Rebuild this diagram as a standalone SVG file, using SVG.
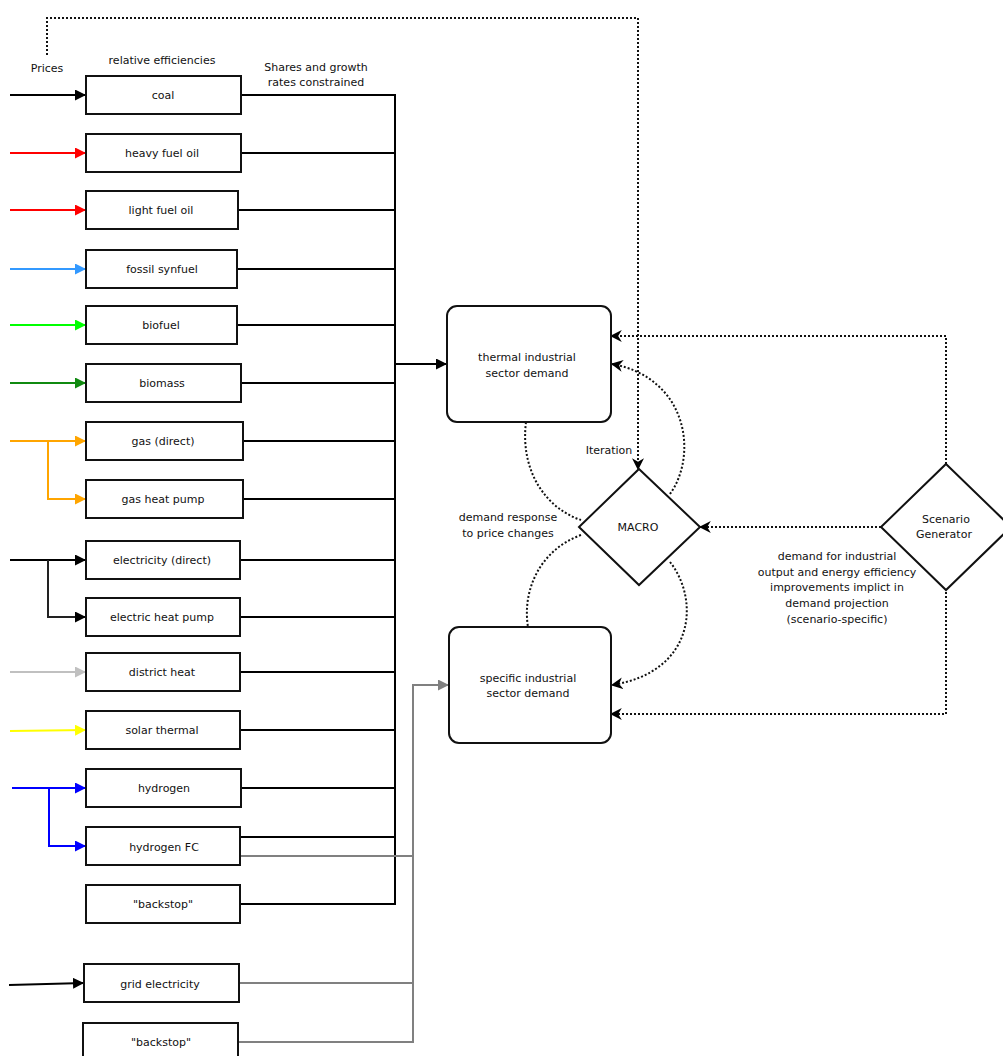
<svg xmlns="http://www.w3.org/2000/svg" width="1003" height="1056" viewBox="0 0 1003 1056">
<defs>
<style>
text{font-family:"DejaVu Sans","Liberation Sans",sans-serif;font-size:11px;fill:#111;text-anchor:middle;}
.box{fill:#fff;stroke:#111;stroke-width:2;}
.rbox{fill:#fff;stroke:#111;stroke-width:2;}
.ln{fill:none;stroke-width:2;}
.blk{stroke:#000;}
.gry{stroke:#808080;}
.dot{fill:none;stroke:#111;stroke-width:2;stroke-dasharray:2 2;}
</style>
<marker id="aBlack" viewBox="0 0 10 10" refX="10" refY="5" markerWidth="5.5" markerHeight="5.5" orient="auto" markerUnits="strokeWidth"><path d="M0,0L10,5L0,10z" fill="#000"/></marker>
<marker id="aRed" viewBox="0 0 10 10" refX="10" refY="5" markerWidth="5.5" markerHeight="5.5" orient="auto" markerUnits="strokeWidth"><path d="M0,0L10,5L0,10z" fill="#ff0000"/></marker>
<marker id="aSyn" viewBox="0 0 10 10" refX="10" refY="5" markerWidth="5.5" markerHeight="5.5" orient="auto" markerUnits="strokeWidth"><path d="M0,0L10,5L0,10z" fill="#3399ff"/></marker>
<marker id="aLime" viewBox="0 0 10 10" refX="10" refY="5" markerWidth="5.5" markerHeight="5.5" orient="auto" markerUnits="strokeWidth"><path d="M0,0L10,5L0,10z" fill="#00ff00"/></marker>
<marker id="aGreen" viewBox="0 0 10 10" refX="10" refY="5" markerWidth="5.5" markerHeight="5.5" orient="auto" markerUnits="strokeWidth"><path d="M0,0L10,5L0,10z" fill="#108a10"/></marker>
<marker id="aOrange" viewBox="0 0 10 10" refX="10" refY="5" markerWidth="5.5" markerHeight="5.5" orient="auto" markerUnits="strokeWidth"><path d="M0,0L10,5L0,10z" fill="#ffa500"/></marker>
<marker id="aLgray" viewBox="0 0 10 10" refX="10" refY="5" markerWidth="5.5" markerHeight="5.5" orient="auto" markerUnits="strokeWidth"><path d="M0,0L10,5L0,10z" fill="#c0c0c0"/></marker>
<marker id="aYellow" viewBox="0 0 10 10" refX="10" refY="5" markerWidth="5.5" markerHeight="5.5" orient="auto" markerUnits="strokeWidth"><path d="M0,0L10,5L0,10z" fill="#ffff00"/></marker>
<marker id="aBlue" viewBox="0 0 10 10" refX="10" refY="5" markerWidth="5.5" markerHeight="5.5" orient="auto" markerUnits="strokeWidth"><path d="M0,0L10,5L0,10z" fill="#0000ff"/></marker>
<marker id="aGray" viewBox="0 0 10 10" refX="10" refY="5" markerWidth="5.5" markerHeight="5.5" orient="auto" markerUnits="strokeWidth"><path d="M0,0L10,5L0,10z" fill="#808080"/></marker>
<marker id="aOpen" viewBox="0 0 10 10" refX="9" refY="5" markerWidth="6" markerHeight="6" orient="auto" markerUnits="strokeWidth"><path d="M0,0L10,5L0,10L3,5z" fill="#000"/></marker>
</defs>
<rect width="1003" height="1056" fill="#fff"/>

<g id="connectors">
<path class="ln" stroke="#000" d="M10,95H86" marker-end="url(#aBlack)"/>
<path class="ln" stroke="#ff0000" d="M10,153H86" marker-end="url(#aRed)"/>
<path class="ln" stroke="#ff0000" d="M10,210H86" marker-end="url(#aRed)"/>
<path class="ln" stroke="#3399ff" d="M10,269H86" marker-end="url(#aSyn)"/>
<path class="ln" stroke="#00ff00" d="M10,325H86" marker-end="url(#aLime)"/>
<path class="ln" stroke="#108a10" d="M10,383H86" marker-end="url(#aGreen)"/>
<path class="ln" stroke="#ffa500" d="M10,441H86" marker-end="url(#aOrange)"/>
<path class="ln" stroke="#ffa500" d="M48,441V499H86" marker-end="url(#aOrange)"/>
<path class="ln" stroke="#000" d="M10,560H86" marker-end="url(#aBlack)"/>
<path class="ln" stroke="#222" d="M48,560V617H86" marker-end="url(#aBlack)"/>
<path class="ln" stroke="#c0c0c0" d="M10,672H86" marker-end="url(#aLgray)"/>
<path class="ln" stroke="#ffff00" d="M10,731L86,730" marker-end="url(#aYellow)"/>
<path class="ln" stroke="#0000ff" d="M12,788H86" marker-end="url(#aBlue)"/>
<path class="ln" stroke="#0000ff" d="M49,788V846H86" marker-end="url(#aBlue)"/>
<path class="ln" stroke="#000" d="M9,985L84,983" marker-end="url(#aBlack)"/>

<path class="ln blk" d="M241,95H395V904H240"/>
<path class="ln blk" d="M241,153H395M238,210H395M237,269H395M237,325H395M241,383H395M243,441H395M243,499H395M240,560H395M240,617H395M240,672H395M240,730H395M241,788H395M240,837H395"/>
<path class="ln blk" d="M395,364H447" marker-end="url(#aBlack)"/>

<path class="ln gry" d="M240,856H413M239,983H413M238,1042H413V685H449" marker-end="url(#aGray)"/>

<path class="dot" d="M47,55V18H638V469" marker-end="url(#aOpen)"/>
<path class="dot" d="M946,464V336H611" marker-end="url(#aOpen)"/>
<path class="dot" d="M946,588V714H611" marker-end="url(#aOpen)"/>
<path class="dot" d="M881,527H700" marker-end="url(#aOpen)"/>
<path class="dot" d="M526,422C520,470 545,508 581,520"/>
<path class="dot" d="M670,494C698,455 688,378 612,364" marker-end="url(#aOpen)"/>
<path class="dot" d="M581,535C540,550 522,590 528,627"/>
<path class="dot" d="M670,562C700,600 695,672 612,685" marker-end="url(#aOpen)"/>
</g>

<g id="labels">
<text x="47" y="72">Prices</text>
<text x="162" y="64">relative efficiencies</text>
<text x="316" y="71">Shares and growth</text>
<text x="316" y="86">rates constrained</text>
<text x="609" y="454">Iteration</text>
<text x="508" y="521">demand response</text>
<text x="508" y="537">to price changes</text>
<text x="837" y="560">demand for industrial</text>
<text x="837" y="576">output and energy efficiency</text>
<text x="837" y="591">improvements implict in</text>
<text x="837" y="607">demand projection</text>
<text x="837" y="623">(scenario-specific)</text>
</g>

<g id="n-coal"><rect class="box" x="86" y="76" width="155" height="38"/><text x="163" y="99">coal</text></g>
<g id="n-hfo"><rect class="box" x="86" y="134" width="155" height="38"/><text x="162" y="157">heavy fuel oil</text></g>
<g id="n-lfo"><rect class="box" x="86" y="191" width="152" height="38"/><text x="161" y="214">light fuel oil</text></g>
<g id="n-synfuel"><rect class="box" x="86" y="250" width="151" height="38"/><text x="162" y="273">fossil synfuel</text></g>
<g id="n-biofuel"><rect class="box" x="86" y="306" width="151" height="38"/><text x="161" y="329">biofuel</text></g>
<g id="n-biomass"><rect class="box" x="86" y="364" width="155" height="38"/><text x="162" y="387">biomass</text></g>
<g id="n-gas"><rect class="box" x="86" y="422" width="157" height="38"/><text x="163" y="445">gas (direct)</text></g>
<g id="n-gashp"><rect class="box" x="86" y="480" width="157" height="38"/><text x="163" y="503">gas heat pump</text></g>
<g id="n-elec"><rect class="box" x="86" y="541" width="154" height="38"/><text x="162" y="564">electricity (direct)</text></g>
<g id="n-elechp"><rect class="box" x="86" y="598" width="154" height="38"/><text x="162" y="621">electric heat pump</text></g>
<g id="n-district"><rect class="box" x="86" y="653" width="154" height="38"/><text x="162" y="676">district heat</text></g>
<g id="n-solar"><rect class="box" x="86" y="711" width="154" height="38"/><text x="162" y="734">solar thermal</text></g>
<g id="n-h2"><rect class="box" x="86" y="769" width="155" height="38"/><text x="164" y="792">hydrogen</text></g>
<g id="n-h2fc"><rect class="box" x="86" y="827" width="154" height="38"/><text x="164" y="851">hydrogen FC</text></g>
<g id="n-backstop1"><rect class="box" x="86" y="885" width="154" height="38"/><text x="163" y="908">"backstop"</text></g>
<g id="n-grid"><rect class="box" x="84" y="964" width="155" height="38"/><text x="160" y="988">grid electricity</text></g>
<g id="n-backstop2"><rect class="box" x="83" y="1023" width="155" height="38"/><text x="161" y="1046">"backstop"</text></g>

<g id="n-thermal"><rect class="rbox" x="447" y="306" width="164" height="116" rx="10"/><text x="527" y="361">thermal industrial</text><text x="527" y="377">sector demand</text></g>
<g id="n-specific"><rect class="rbox" x="449" y="627" width="162" height="116" rx="10"/><text x="528" y="682">specific industrial</text><text x="528" y="697">sector demand</text></g>
<g id="n-macro"><path class="box" d="M639,469L700,527L639,585L579,527Z"/><text x="638" y="531">MACRO</text></g>
<g id="n-scenario"><path class="box" d="M946,464L1011,527L946,590L881,527Z"/><text x="946" y="523">Scenario</text><text x="944" y="538">Generator</text></g>
</svg>
